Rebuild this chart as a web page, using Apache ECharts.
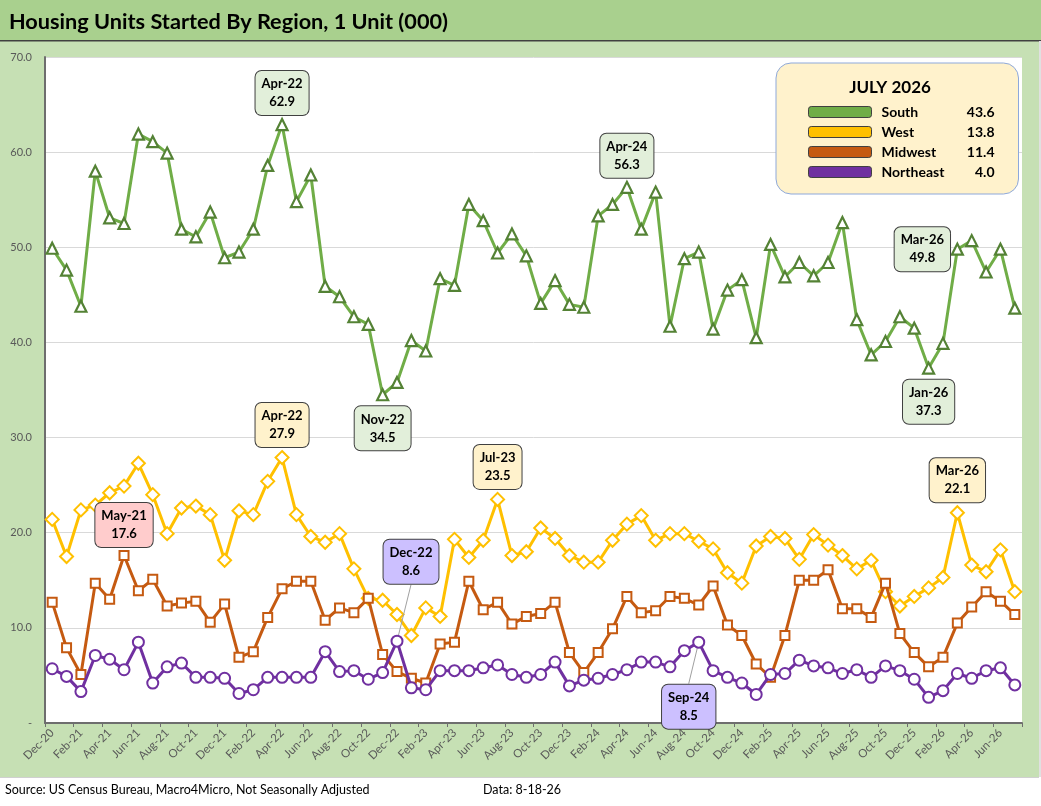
<!DOCTYPE html>
<html>
<head>
<meta charset="utf-8">
<script src="https://cdn.jsdelivr.net/npm/echarts@6/dist/echarts.min.js"></script>
<style>
html,body{margin:0;padding:0;background:#fff;}
#chart{width:1041px;height:806px;}
</style>
</head>
<body>
<div id="chart"></div>
<script>
const categories = [
 'Dec-20',
 'Jan-21','Feb-21','Mar-21','Apr-21','May-21','Jun-21','Jul-21','Aug-21','Sep-21','Oct-21','Nov-21','Dec-21',
 'Jan-22','Feb-22','Mar-22','Apr-22','May-22','Jun-22','Jul-22','Aug-22','Sep-22','Oct-22','Nov-22','Dec-22',
 'Jan-23','Feb-23','Mar-23','Apr-23','May-23','Jun-23','Jul-23','Aug-23','Sep-23','Oct-23','Nov-23','Dec-23',
 'Jan-24','Feb-24','Mar-24','Apr-24','May-24','Jun-24','Jul-24','Aug-24','Sep-24','Oct-24','Nov-24','Dec-24',
 'Jan-25','Feb-25','Mar-25','Apr-25','May-25','Jun-25','Jul-25','Aug-25','Sep-25','Oct-25','Nov-25','Dec-25',
 'Jan-26','Feb-26','Mar-26','Apr-26','May-26','Jun-26','Jul-26'
];

const south = [
 49.9,
 47.6,43.8,58.0,53.1,52.5,61.9,61.1,59.9,51.9,51.1,53.7,48.9,
 49.5,51.9,58.6,62.9,54.8,57.6,45.9,44.8,42.7,41.9,34.5,35.8,
 40.2,39.1,46.7,46.0,54.5,52.8,49.4,51.4,49.1,44.1,46.5,44.0,
 43.7,53.3,54.5,56.3,51.9,55.8,41.7,48.8,49.5,41.4,45.5,46.6,
 40.5,50.3,46.9,48.4,47.0,48.4,52.6,42.4,38.7,40.1,42.7,41.5,
 37.3,39.9,49.8,50.7,47.4,49.8,43.6
];
const west = [
 21.4,
 17.5,22.4,22.9,24.2,24.9,27.3,24.0,19.9,22.6,22.8,21.9,17.1,
 22.3,21.9,25.4,27.9,21.9,19.6,19.0,19.9,16.2,13.1,12.9,11.4,
 9.2,12.1,11.2,19.3,17.4,19.2,23.5,17.6,18.0,20.5,19.4,17.6,
 16.9,16.9,19.2,20.9,21.8,19.2,19.9,19.9,19.1,18.3,15.8,14.7,
 18.6,19.6,19.4,17.2,19.8,18.7,17.6,16.2,17.1,13.8,12.3,13.3,
 14.2,15.3,22.1,16.6,15.9,18.2,13.8
];
const midwest = [
 12.7,
 7.9,5.1,14.7,13.0,17.6,13.9,15.1,12.3,12.6,12.8,10.6,12.5,
 6.9,7.5,11.1,14.1,14.9,14.9,10.8,12.1,11.6,13.1,7.2,5.4,
 4.7,4.2,8.3,8.5,14.9,11.9,12.7,10.4,11.2,11.5,12.7,7.4,
 5.3,7.4,9.9,13.3,11.6,11.8,13.3,13.1,12.4,14.4,10.3,9.2,
 6.2,4.8,9.2,15.0,15.0,16.1,12.0,12.0,11.1,14.7,9.4,7.4,
 5.9,6.9,10.5,12.2,13.8,12.8,11.4
];
const northeast = [
 5.7,
 4.9,3.3,7.1,6.7,5.6,8.5,4.2,5.9,6.3,4.8,4.8,4.7,
 3.1,3.5,4.8,4.8,4.8,4.8,7.5,5.4,5.5,4.6,5.3,8.6,
 3.7,3.5,5.5,5.5,5.5,5.8,6.1,5.1,4.8,5.1,6.4,3.9,
 4.5,4.7,5.1,5.6,6.4,6.4,5.9,7.6,8.5,5.5,4.8,4.2,
 3.0,5.1,5.2,6.6,6.0,5.8,5.2,5.6,4.8,6.0,5.5,4.6,
 2.7,3.4,5.2,4.7,5.5,5.8,4.0
];
const seriesNames = ['South','West','Midwest','Northeast'];
const yTicks = [0,10,20,30,40,50,60,70];
const legendTitle = 'JULY 2026';
const chartTitle = 'Housing Units Started By Region, 1 Unit (000)';
const sourceText = 'Source: US Census Bureau, Macro4Micro, Not Seasonally Adjusted';
const dataText = 'Data: 8-18-26';

// callouts: data index -> label placement
const southCallouts = {16:'top', 23:'bottom', 40:'top', 61:'bottom', 63:'left'};
const westCallouts = {16:'top', 31:'top', 63:'top'};
const midwestCallouts = {5:'top'};
const northeastCallouts = {24:'top', 45:'bottom'};

const FONT = 'Lato, "Open Sans", sans-serif';

function buildData(values, callouts, boxColor) {
  return values.map((v, i) => {
    if (callouts[i] === undefined) return v;
    const pos = callouts[i];
    const lbl = {
      show: true,
      position: pos,
      distance: pos === 'bottom' ? 5 : 3,
      formatter: p => p.name + '\n' + Number(p.value).toFixed(1),
      backgroundColor: boxColor,
      borderColor: '#404040',
      borderWidth: 1,
      borderRadius: 6,
      padding: [4, 6, 4, 6],
      color: '#000',
      fontFamily: FONT,
      fontWeight: 'bold',
      fontSize: 13,
      lineHeight: 18,
      align: 'center'
    };
    if (pos === 'left') {
      lbl.position = 'inside';
      lbl.offset = [-35, 0];
      lbl.verticalAlign = 'middle';
    }
    return {value: v, label: lbl};
  });
}

const colors = {
  South: '#70ad47', West: '#ffc000', Midwest: '#c55a11', Northeast: '#7030a0'
};
const markerBorder = {
  South: '#548235', West: '#ffc000', Midwest: '#c55a11', Northeast: '#7030a0'
};

function lastVal(arr){ return arr[arr.length-1].toFixed(1); }
const lastValues = {South: lastVal(south), West: lastVal(west), Midwest: lastVal(midwest), Northeast: lastVal(northeast)};

const chart = echarts.init(document.getElementById('chart'), null, {renderer: 'canvas'});

const option = {
  backgroundColor: '#c6e0b4',
  animation: false,
  textStyle: {fontFamily: FONT},
  title: {
    text: chartTitle,
    left: 4, top: 6,
    textStyle: {fontFamily: FONT, fontSize: 21.7, fontWeight: 'bold', color: '#000'}
  },
  graphic: [
    {type: 'rect', shape: {x: 0, y: 0, width: 1041, height: 41}, style: {fill: '#a9d08e'}, z: 0},
    {type: 'rect', shape: {x: 0, y: 40, width: 1041, height: 1.5}, style: {fill: '#404040'}, z: 0},
    {type: 'rect', shape: {x: 1039, y: 41, width: 2, height: 740}, style: {fill: '#e0e0e0'}, z: 0},
    {type: 'rect', shape: {x: 0, y: 777, width: 1041, height: 29}, style: {fill: '#ffffff'}, z: 0},
    {type: 'rect', shape: {x: 0, y: 777, width: 1039, height: 1}, style: {fill: '#d0d0d0'}, z: 0},
    {type: 'text', x: 5, y: 790, style: {text: sourceText, fill: '#000', font: '12.5px ' + FONT, textVerticalAlign: 'middle'}, z: 5},
    {type: 'text', x: 483, y: 790, style: {text: dataText, fill: '#000', font: '12.5px ' + FONT, textVerticalAlign: 'middle'}, z: 5},
    {type: 'text', x: 890, y: 88, style: {text: legendTitle, fill: '#000', font: 'bold 17px ' + FONT, textAlign: 'center', textVerticalAlign: 'middle'}, z: 100}
  ],
  grid: {
    left: 45, right: 19, top: 57, bottom: 83,
    show: true, backgroundColor: '#ffffff', borderWidth: 0
  },
  legend: {
    orient: 'vertical',
    left: 776, top: 63,
    backgroundColor: '#fff2cc',
    borderColor: '#8ea9db',
    borderWidth: 1,
    borderRadius: 15,
    padding: [41, 24, 14, 32],
    itemWidth: 63, itemHeight: 11, itemGap: 4,
    icon: 'roundRect',
    selectedMode: false,
    data: seriesNames.map(n => ({
      name: n,
      itemStyle: {color: colors[n], borderColor: '#404040', borderWidth: 1}
    })),
    formatter: n => '{n|' + n + '}{v|' + lastValues[n] + '}',
    textStyle: {
      fontFamily: FONT, fontSize: 14, fontWeight: 'bold', color: '#000', lineHeight: 16,
      rich: {
        n: {width: 82, padding: [0,0,0,5], fontFamily: FONT, fontSize: 14, fontWeight: 'bold', color: '#000'},
        v: {width: 31, align: 'right', fontFamily: FONT, fontSize: 14, fontWeight: 'bold', color: '#000'}
      }
    }
  },
  xAxis: {
    type: 'category',
    data: categories,
    boundaryGap: true,
    axisLine: {show: true, lineStyle: {color: '#6e6e6e', width: 2}},
    axisTick: {show: true, interval: 1, length: 4, lineStyle: {color: '#6e6e6e', width: 1}},
    axisLabel: {interval: 1, rotate: 45, color: '#595959', fontSize: 11.5, fontFamily: FONT, margin: 8},
    splitLine: {show: false}
  },
  yAxis: {
    type: 'value',
    min: yTicks[0], max: yTicks[yTicks.length-1], interval: 10,
    axisLine: {show: true, lineStyle: {color: '#6e6e6e', width: 2}},
    axisTick: {show: false},
    axisLabel: {
      color: '#595959', fontSize: 11, fontFamily: FONT, margin: 13,
      formatter: v => v === 0 ? '-' : v.toFixed(1)
    },
    splitLine: {show: true, lineStyle: {color: '#d9d9d9', width: 1}}
  },
  series: [
    {
      name: 'South', type: 'line', data: buildData(south, southCallouts, '#e2efda'),
      symbol: 'triangle', symbolSize: 11, showAllSymbol: true,
      lineStyle: {color: colors.South, width: 3},
      itemStyle: {color: '#ffffff', borderColor: markerBorder.South, borderWidth: 2.2},
      z: 2
    },
    {
      name: 'West', type: 'line', data: buildData(west, westCallouts, '#fff2cc'),
      symbol: 'diamond', symbolSize: 13, showAllSymbol: true,
      lineStyle: {color: colors.West, width: 3},
      itemStyle: {color: '#ffffff', borderColor: markerBorder.West, borderWidth: 2},
      z: 3
    },
    {
      name: 'Midwest', type: 'line', data: buildData(midwest, midwestCallouts, '#ffcccc'),
      symbol: 'rect', symbolSize: 9, showAllSymbol: true,
      lineStyle: {color: colors.Midwest, width: 3},
      itemStyle: {color: '#ffffff', borderColor: markerBorder.Midwest, borderWidth: 2},
      z: 4
    },
    {
      name: 'Northeast', type: 'line', data: buildData(northeast, northeastCallouts, '#ccc0ff'),
      symbol: 'circle', symbolSize: 11, showAllSymbol: true,
      lineStyle: {color: colors.Northeast, width: 3},
      itemStyle: {color: '#ffffff', borderColor: markerBorder.Northeast, borderWidth: 2},
      labelLine: {show: true, lineStyle: {color: '#a0a0a0', width: 1}},
      labelLayout: function (p) {
        if (p.dataIndex === 24) return {dx: 14, dy: -48};
        if (p.dataIndex === 45) return {dx: -10, dy: 31};
        return {};
      },
      z: 5
    }
  ]
};
chart.setOption(option);
</script>
</body>
</html>
